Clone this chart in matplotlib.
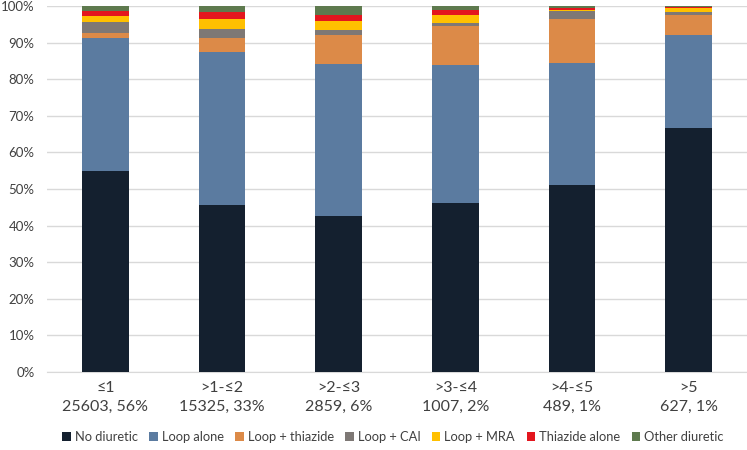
import numpy as np
import matplotlib
matplotlib.use('Agg')
import matplotlib.pyplot as plt

plt.rcParams['font.family'] = ['Lato', 'DejaVu Sans']

categories = ['≤1\n25603, 56%', '>1-≤2\n15325, 33%', '>2-≤3\n2859, 6%',
              '>3-≤4\n1007, 2%', '>4-≤5\n489, 1%', '>5\n627, 1%']

# percentage of patients per diuretic group, bottom to top
no_diuretic = [54.8, 45.5, 42.7, 46.3, 51.2, 66.6]
loop_alone = [36.4, 41.9, 41.4, 37.7, 33.3, 25.5]
loop_thiazide = [1.6, 3.9, 8.0, 10.5, 12.1, 5.6]
loop_cai = [2.8, 2.5, 1.3, 0.9, 2.0, 0.7]
loop_mra = [1.7, 2.6, 2.6, 2.3, 0.4, 1.1]
thiazide_alone = [1.5, 2.0, 1.6, 1.4, 0.5, 0.4]
other_diuretic = [1.2, 1.6, 2.4, 0.9, 0.5, 0.1]

series = [
    ('No diuretic', no_diuretic, '#14202F'),
    ('Loop alone', loop_alone, '#5B7BA0'),
    ('Loop + thiazide', loop_thiazide, '#DC8A48'),
    ('Loop + CAI', loop_cai, '#7E7875'),
    ('Loop + MRA', loop_mra, '#FFC000'),
    ('Thiazide alone', thiazide_alone, '#E3161E'),
    ('Other diuretic', other_diuretic, '#5E7A4E'),
]

fig = plt.figure(figsize=(7.47, 4.5), dpi=100)
ax = fig.add_axes([0.063, 0.174, 0.937, 0.812])

x = np.arange(len(categories))
bottom = np.zeros(len(categories))
for name, vals, col in series:
    ax.bar(x, vals, bottom=bottom, width=0.4, color=col, label=name, zorder=3)
    bottom += np.array(vals)

ax.set_xlim(-0.5, len(categories) - 0.5)
ax.set_ylim(0, 100)
ax.set_yticks(np.arange(0, 101, 10))
ax.set_yticklabels([f'{v}%' for v in range(0, 101, 10)], fontsize=9.5, color='#404040')
ax.set_xticks(x)
ax.set_xticklabels(categories, fontsize=11.5, color='#404040', linespacing=1.4)
ax.yaxis.grid(True, color='#D9D9D9', linewidth=1, zorder=0)
ax.tick_params(axis='x', length=0, pad=7)
ax.tick_params(axis='y', length=0, pad=9)
for s in ['top', 'right', 'left']:
    ax.spines[s].set_visible(False)
ax.spines['bottom'].set_color('#D9D9D9')

fig.legend(loc='center', bbox_to_anchor=(0.526, 0.029), ncol=7, frameon=False,
           fontsize=9.3, handlelength=0.65, handleheight=0.65, handletextpad=0.3,
           columnspacing=0.9, labelcolor='#404040')

fig.savefig('out.png', dpi=100)
